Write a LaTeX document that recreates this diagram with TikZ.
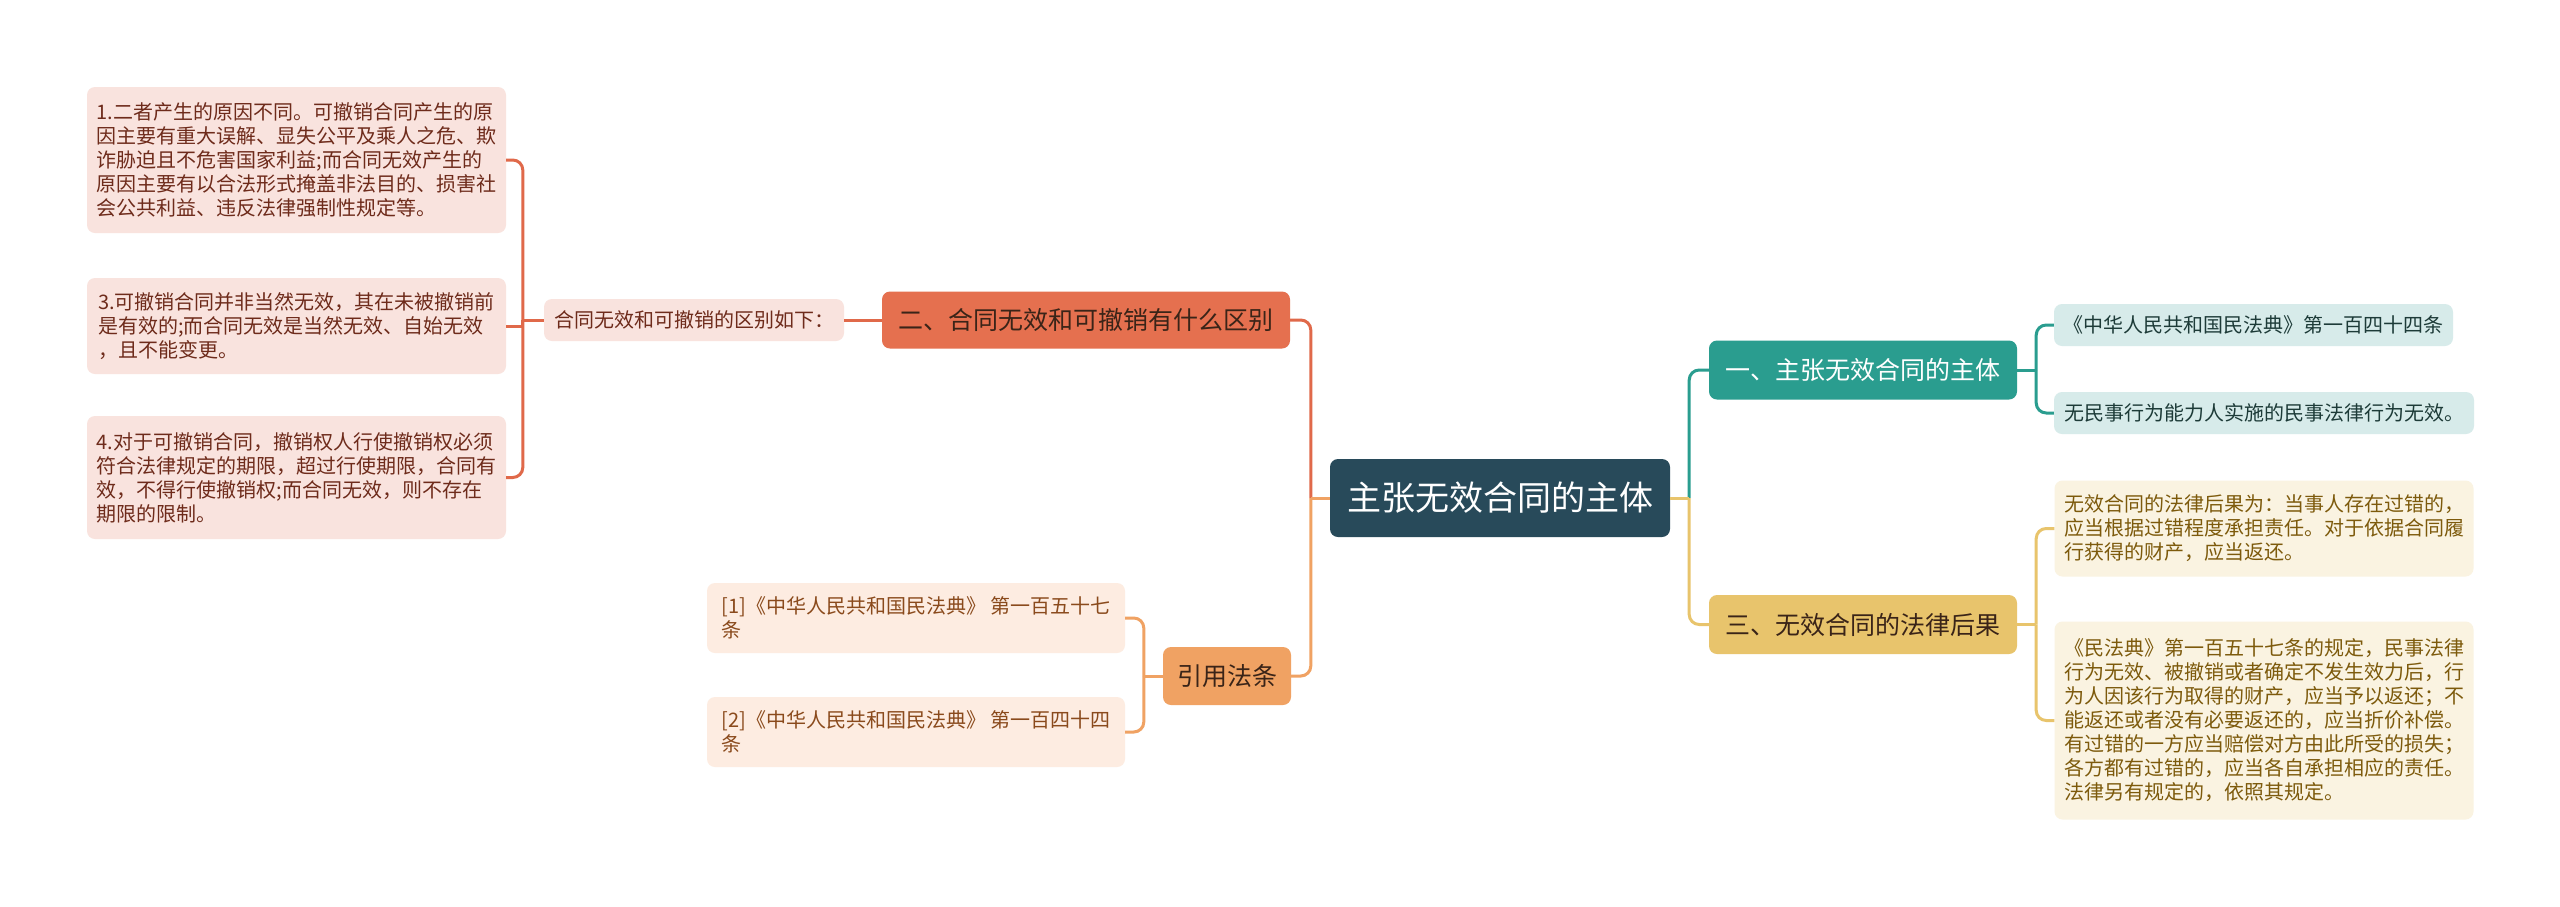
\documentclass[tikz,border=0pt]{standalone}
\usepackage{fontspec}
\setmainfont{Noto Sans CJK SC}
\usetikzlibrary{calc}
\definecolor{rootfill}{HTML}{284A5A}
\definecolor{tealc}{HTML}{2A9D8F}
\definecolor{goldc}{HTML}{E8C46C}
\definecolor{coralc}{HTML}{E5704F}
\definecolor{coralline}{HTML}{E0694A}
\definecolor{orangec}{HTML}{F0A263}
\definecolor{pinkfill}{HTML}{F9E3DE}
\definecolor{peachfill}{HTML}{FDECE1}
\definecolor{tealfill}{HTML}{D7EBEA}
\definecolor{creamfill}{HTML}{FAF3E1}
\definecolor{pinktext}{HTML}{6E2B1B}
\definecolor{peachtext}{HTML}{8A4A1C}
\definecolor{tealtext}{HTML}{1D3B38}
\definecolor{creamtext}{HTML}{7D5A0C}
\definecolor{darktext}{HTML}{3A2418}
\begin{document}
\begin{tikzpicture}[x=1pt,y=-1pt,
  box/.style={rounded corners=8pt, inner sep=0pt, align=left, draw=none},
  leaf/.style={box, font=\fontsize{20}{24}\selectfont},
  branch/.style={box, font=\fontsize{25}{30}\selectfont, align=center},
  conn/.style={line width=3pt, rounded corners=10pt}]
\useasboundingbox (0,0) rectangle (2560,906);
\fill[white] (0,0) rectangle (2560,906);

% root
\node[box, fill=rootfill, text=white, align=center, minimum width=340pt, minimum height=78pt,
  font=\fontsize{34}{40}\selectfont] (root) at (1500,498) {主张无效合同的主体};

% left branch 二
\node[branch, fill=coralc, text=darktext, minimum width=408pt, minimum height=57pt] (n2) at (1086,320) {二、合同无效和可撤销有什么区别};
\node[leaf, fill=pinkfill, text=pinktext, minimum width=300pt, minimum height=42pt] (diff) at (694,320) {合同无效和可撤销的区别如下：};
\node[leaf, fill=pinkfill, text=pinktext, minimum width=419pt, minimum height=146pt] (L1) at (296.5,160) {1.二者产生的原因不同。可撤销合同产生的原\\因主要有重大误解、显失公平及乘人之危、欺\\诈胁迫且不危害国家利益;而合同无效产生的\\原因主要有以合法形式掩盖非法目的、损害社\\会公共利益、违反法律强制性规定等。};
\node[leaf, fill=pinkfill, text=pinktext, minimum width=419pt, minimum height=96pt] (L3) at (296.5,326) {3.可撤销合同并非当然无效，其在未被撤销前\\是有效的;而合同无效是当然无效、自始无效\\，且不能变更。};
\node[leaf, fill=pinkfill, text=pinktext, minimum width=419pt, minimum height=123pt] (L4) at (296.5,477.5) {4.对于可撤销合同，撤销权人行使撤销权必须\\符合法律规定的期限，超过行使期限，合同有\\效，不得行使撤销权;而合同无效，则不存在\\期限的限制。};

% left branch 引用法条
\node[branch, fill=orangec, text=darktext, minimum width=128pt, minimum height=58pt] (cite) at (1227,676) {引用法条};
\node[leaf, fill=peachfill, text=peachtext, minimum width=418pt, minimum height=70pt] (C1) at (916,618) {[1]《中华人民共和国民法典》 第一百五十七\\条};
\node[leaf, fill=peachfill, text=peachtext, minimum width=418pt, minimum height=70pt] (C2) at (916,732) {[2]《中华人民共和国民法典》 第一百四十四\\条};

% right branch 一
\node[branch, fill=tealc, text=white, minimum width=308pt, minimum height=59pt] (n1) at (1863,370) {一、主张无效合同的主体};
\node[leaf, fill=tealfill, text=tealtext, minimum width=399pt, minimum height=42pt] (R1) at (2253.5,325) {《中华人民共和国民法典》第一百四十四条};
\node[leaf, fill=tealfill, text=tealtext, minimum width=420pt, minimum height=42pt] (R2) at (2264,413) {无民事行为能力人实施的民事法律行为无效。};

% right branch 三
\node[branch, fill=goldc, text=darktext, minimum width=308pt, minimum height=59pt] (n3) at (1863,624.5) {三、无效合同的法律后果};
\node[leaf, fill=creamfill, text=creamtext, minimum width=419pt, minimum height=96pt] (RA) at (2264,528.5) {无效合同的法律后果为：当事人存在过错的，\\应当根据过错程度承担责任。对于依据合同履\\行获得的财产，应当返还。};
\node[leaf, fill=creamfill, text=creamtext, minimum width=419pt, minimum height=198pt] (RB) at (2264,720.5) {《民法典》第一百五十七条的规定，民事法律\\行为无效、被撤销或者确定不发生效力后，行\\为人因该行为取得的财产，应当予以返还；不\\能返还或者没有必要返还的，应当折价补偿。\\有过错的一方应当赔偿对方由此所受的损失；\\各方都有过错的，应当各自承担相应的责任。\\法律另有规定的，依照其规定。};

% connectors: root left
\coordinate (jL) at ($(root.west)+(-19,0)$);
\draw[conn, coralline] (jL) |- (n2.east);
\draw[conn, orangec] (jL) |- (cite.east);
\draw[conn, orangec] (root.west) -- (jL);

% n2 -> diff -> leaves
\draw[conn, coralline] (n2.west) -- (diff.east);
\coordinate (jD) at ($(diff.west)+(-21,0)$);
\draw[conn, coralline] (diff.west) -- (jD);
\draw[conn, coralline] (jD) |- (L1.east);
\draw[conn, coralline] (jD) |- (L4.east);
\draw[conn, coralline, rounded corners=0pt] (jD) |- (L3.east);

% cite -> C1, C2
\coordinate (jC) at ($(cite.west)+(-19,0)$);
\draw[conn, orangec] (cite.west) -- (jC);
\draw[conn, orangec] (jC) |- (C1.east);
\draw[conn, orangec] (jC) |- (C2.east);

% root right
\coordinate (jR) at ($(root.east)+(19,0)$);
\draw[conn, tealc] (jR) |- (n1.west);
\draw[conn, goldc] (jR) |- (n3.west);
\draw[conn, goldc] (root.east) -- (jR);

% n1 -> R1, R2
\coordinate (j1) at ($(n1.east)+(19,0)$);
\draw[conn, tealc] (n1.east) -- (j1);
\draw[conn, tealc] (j1) |- (R1.west);
\draw[conn, tealc] (j1) |- (R2.west);

% n3 -> RA, RB
\coordinate (j3) at ($(n3.east)+(19,0)$);
\draw[conn, goldc] (n3.east) -- (j3);
\draw[conn, goldc] (j3) |- (RA.west);
\draw[conn, goldc] (j3) |- (RB.west);
\end{tikzpicture}
\end{document}
